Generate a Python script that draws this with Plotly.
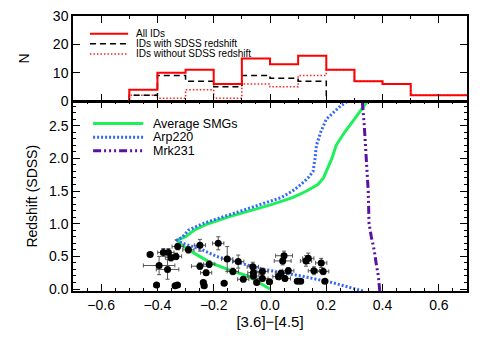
import plotly.graph_objects as go

# histogram of [3.6]-[4.5] colours (top panel)
bin_edges = [-0.5, -0.4, -0.3, -0.2, -0.1, 0.0, 0.1, 0.2, 0.3, 0.4, 0.5, 0.6, 0.7]
n_all = [4, 10, 11, 6, 15, 13, 16, 11, 7, 6, 2, 2]
n_with_sdss = [2, 9, 7, 5, 9, 8, 7]
n_without_sdss = [2, 1, 4, 1, 6, 5, 9, 11, 7, 6, 2, 2]

# redshift tracks of template SEDs (bottom panel)
smg_z = [0.0, 0.1, 0.2, 0.3, 0.4, 0.5, 0.6, 0.7, 0.75, 0.8, 0.9, 1.0, 1.1, 1.2, 1.3,
         1.4, 1.5, 1.6, 1.7, 1.8, 2.0, 2.2, 2.4, 2.6, 2.8, 2.87]
smg_col = [0.0, -0.04, -0.08, -0.15, -0.21, -0.25, -0.29, -0.32, -0.33, -0.30, -0.27,
           -0.22, -0.15, -0.07, 0.01, 0.08, 0.13, 0.17, 0.19, 0.20, 0.22, 0.235, 0.265,
           0.30, 0.335, 0.345]
arp_z = [-0.03, 0.1, 0.2, 0.3, 0.4, 0.5, 0.6, 0.7, 0.75, 0.8, 0.9, 1.0, 1.1, 1.2, 1.3,
         1.4, 1.5, 1.6, 1.7, 1.8, 2.0, 2.2, 2.4, 2.6, 2.8, 2.87]
arp_col = [0.33, 0.22, 0.11, -0.02, -0.11, -0.19, -0.24, -0.31, -0.33, -0.31, -0.29,
           -0.24, -0.17, -0.10, -0.03, 0.04, 0.08, 0.11, 0.135, 0.153, 0.16, 0.165,
           0.18, 0.20, 0.25, 0.275]
mrk_z = [-0.03, 0.2, 0.4, 0.6, 0.8, 1.0, 1.5, 2.0, 2.5, 2.87]
mrk_col = [0.39, 0.385, 0.377, 0.37, 0.36, 0.352, 0.349, 0.343, 0.335, 0.328]

# IDs with SDSS redshifts
id_col = [-0.426, -0.394, -0.403, -0.379, -0.361, -0.364, -0.352, -0.334, -0.337, -0.329,
          -0.328, -0.290, -0.249, -0.249, -0.237, -0.234, -0.227, -0.216, -0.184, -0.163,
          -0.152, -0.132, -0.113, -0.095, -0.061, -0.059, -0.059, -0.047, -0.027, -0.027,
          -0.002, 0.030, 0.039, 0.045, 0.050, 0.053, 0.065, 0.097, 0.109, 0.128,
          0.136, 0.156, 0.182, 0.189, 0.195]
id_z = [0.53, 0.36, 0.06, 0.56, 0.56, 0.30, 0.48, 0.50, 0.05, 0.06,
        0.65, 0.60, 0.35, 0.67, 0.10, 0.05, 0.25, 0.38, 0.70, 0.09,
        0.46, 0.27, 0.42, 0.15, 0.34, 0.25, 0.20, 0.10, 0.27, 0.16,
        0.11, 0.19, 0.24, 0.43, 0.51, 0.16, 0.28, 0.12, 0.12, 0.43,
        0.47, 0.28, 0.40, 0.27, 0.12]
id_col_err = [0.01, 0.056, 0.01, 0.02, 0.02, 0.04, 0.02, 0.02, 0.01, 0.01,
              0.02, 0.02, 0.03, 0.02, 0.01, 0.01, 0.02, 0.02, 0.02, 0.01,
              0.02, 0.02, 0.02, 0.02, 0.02, 0.02, 0.02, 0.01, 0.02, 0.02,
              0.01, 0.02, 0.02, 0.03, 0.03, 0.02, 0.02, 0.01, 0.01, 0.02,
              0.02, 0.02, 0.02, 0.02, 0.01]
id_z_err = [0.02, 0.14, 0.02, 0.06, 0.06, 0.15, 0.05, 0.05, 0.02, 0.02,
            0.05, 0.05, 0.05, 0.09, 0.03, 0.03, 0.04, 0.05, 0.10, 0.02,
            0.19, 0.05, 0.10, 0.04, 0.07, 0.05, 0.05, 0.03, 0.05, 0.04,
            0.02, 0.04, 0.05, 0.06, 0.07, 0.04, 0.05, 0.02, 0.02, 0.08,
            0.08, 0.06, 0.07, 0.05, 0.03]

FONT = "Liberation Sans, Arial, sans-serif"


def steps(edges, counts, drop=False):
    xs = [edges[0]] + edges[:len(counts) + 1]
    ys = [0] + counts + [counts[-1]]
    if drop:
        xs.append(edges[len(counts)])
        ys.append(0)
    return xs, ys


fig = go.Figure()

top_series = [
    ("IDs without SDSS redshift", n_without_sdss, "#ff2020", "1.5px,2px", 1.5, False),
    ("IDs with SDSS redshift", n_with_sdss, "black", "6px,4px", 1.5, True),
    ("All IDs", n_all, "#ff0000", "solid", 2, False),
]
for name, counts, color, dash, width, drop in top_series:
    hx, hy = steps(bin_edges, counts, drop)
    fig.add_trace(go.Scatter(x=hx, y=hy, mode="lines", line_shape="hv", name=name,
                             line=dict(color=color, dash=dash, width=width),
                             xaxis="x2", yaxis="y2", showlegend=False))

bottom_series = [
    ("Average SMGs", smg_col, smg_z, "#1ef05a", "solid", 3),
    ("Arp220", arp_col, arp_z, "#3366ff", "2px,2px", 3),
    ("Mrk231", mrk_col, mrk_z, "#5a0fa5", "8px,3px,2px,3px,2px,3px,2px,3px", 3),
]
for name, cx, cz, color, dash, width in bottom_series:
    fig.add_trace(go.Scatter(x=cx, y=cz, mode="lines", name=name, showlegend=False,
                             line=dict(color=color, dash=dash, width=width)))

fig.add_trace(go.Scatter(
    x=id_col, y=id_z, mode="markers", showlegend=False,
    marker=dict(color="black", size=7),
    error_x=dict(type="data", array=id_col_err, color="#555555", thickness=1, width=2),
    error_y=dict(type="data", array=id_z_err, color="#555555", thickness=1, width=2),
))

# hand-drawn legends, IDL style
legend_rows_top = [(s[0], s[2], s[3], s[4]) for s in reversed(top_series)]
for i, (name, color, dash, width) in enumerate(legend_rows_top):
    yy = 0.79 - i * 0.118
    fig.add_shape(type="line", xref="x2 domain", yref="y2 domain",
                  x0=0.043, x1=0.14, y0=yy, y1=yy,
                  line=dict(color=color, dash=dash, width=width))
    fig.add_annotation(text=name, xref="x2 domain", yref="y2 domain", x=0.157, y=yy,
                       xanchor="left", yanchor="middle", showarrow=False, borderpad=0,
                       font=dict(size=10, family=FONT, color="black"))

for i, (name, _, _, color, dash, width) in enumerate(bottom_series):
    yy = 0.884 - i * 0.072
    fig.add_shape(type="line", xref="x domain", yref="y domain",
                  x0=0.051, x1=0.178, y0=yy, y1=yy,
                  line=dict(color=color, dash=dash, width=width))
    fig.add_annotation(text=name, xref="x domain", yref="y domain", x=0.2, y=yy,
                       xanchor="left", yanchor="middle", showarrow=False, borderpad=0,
                       font=dict(size=12.5, family=FONT, color="black"))

axis_common = dict(showline=True, linecolor="black", linewidth=1.5, mirror="ticks",
                   ticks="inside", tickcolor="black", showgrid=False, zeroline=False,
                   automargin=False)

fig.update_layout(
    width=491, height=343,
    margin=dict(l=73, r=24, t=16, b=52),
    paper_bgcolor="white", plot_bgcolor="white",
    hovermode=False,
    font=dict(family=FONT, size=14, color="black"),
    xaxis=dict(domain=[0, 1], range=[-0.7, 0.7], dtick=0.2, tickformat=".1f", ticklen=7,
               minor=dict(dtick=0.05, ticklen=3, ticks="inside", tickcolor="black"),
               title=dict(text="[3.6]−[4.5]", font=dict(size=15), standoff=2),
               anchor="y", **axis_common),
    yaxis=dict(domain=[0, 0.689], range=[-0.03, 2.87], dtick=0.5, tickformat=".1f",
               ticklen=7, minor=dict(dtick=0.1, ticklen=3, ticks="inside",
                                     tickcolor="black"),
               title=dict(text="Redshift (SDSS)", font=dict(size=14), standoff=8),
               anchor="x", **axis_common),
    xaxis2=dict(domain=[0, 1], range=[-0.7, 0.7], dtick=0.2, ticklen=7,
                showticklabels=False, matches="x",
                minor=dict(dtick=0.1, ticklen=3, ticks="inside", tickcolor="black"),
                anchor="y2", **axis_common),
    yaxis2=dict(domain=[0.691, 1], range=[0, 30], dtick=10, ticklen=7,
                title=dict(text="N", font=dict(size=14), standoff=20),
                anchor="x2", **axis_common),
)

# drop the browser's default 8px body margin so the figure sits at the page corner
fig.write_html("out.html", config={"displayModeBar": False},
               post_script="document.body.style.margin = '0px';")
